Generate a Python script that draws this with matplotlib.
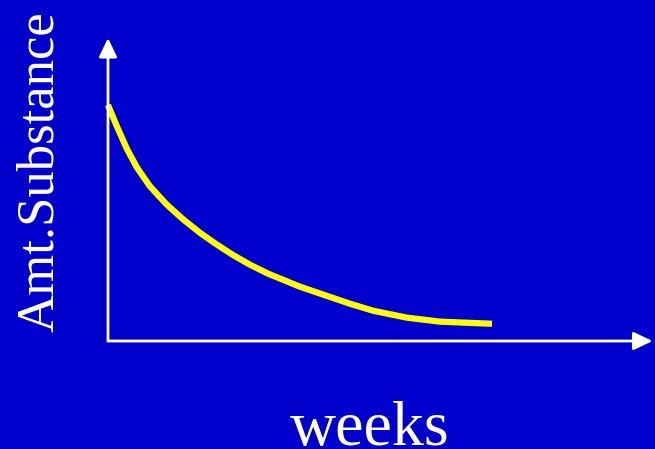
import matplotlib
matplotlib.use("Agg")
import matplotlib.pyplot as plt

# amount of substance (arbitrary units, start ~ 100)
weeks = [0, 0.23, 0.49, 0.75, 1.09, 1.53, 1.96, 2.4, 2.83, 3.26, 3.7,
         4.16, 5.0, 6.3, 6.91, 7.78, 8.65, 10.0]
amount = [100, 91, 81.5, 73.6, 65.6, 57.8, 51.5, 45.8, 40.9, 36.4, 32.3,
          28.6, 23.0, 15.8, 12.8, 9.9, 8.2, 7.3]

x_label = "weeks"
y_label = "Amt.Substance"

bg = "#0000CC"

fig = plt.figure(figsize=(6.55, 4.49), dpi=100, facecolor=bg)
ax = fig.add_axes([0, 0, 1, 1])
ax.set_facecolor(bg)
ax.axis("off")

# 1 week ~ 38.4 px, 1 unit ~ 2.36 px, origin at pixel (108, 341)
ax.set_xlim(-108 / 38.4, (655 - 108) / 38.4)
ax.set_ylim(-(449 - 341) / 2.36, 341 / 2.36)

# axes with arrow heads
arrow = dict(arrowstyle="-|>,head_length=1.15,head_width=0.55", color="white",
             lw=2, mutation_scale=10, shrinkA=0, shrinkB=0)
ax.annotate("", xy=(0, 128.4), xytext=(0, 0), arrowprops=arrow)
ax.annotate("", xy=(14.18, 0), xytext=(0, 0), arrowprops=arrow)

ax.plot(weeks, amount, color="#FFFF00", lw=4.5, solid_capstyle="butt",
        solid_joinstyle="round")

serif = ["Liberation Serif", "DejaVu Serif"]
fig.text(370 / 655, 4 / 449, x_label, ha="center", va="baseline",
         fontsize=46, color="white", family=serif)
fig.text(40 / 655, 1 - 172 / 449, y_label, ha="center", va="center",
         rotation=90, fontsize=38, color="white", family=serif)

fig.savefig("out.png", dpi=100, facecolor=bg)
